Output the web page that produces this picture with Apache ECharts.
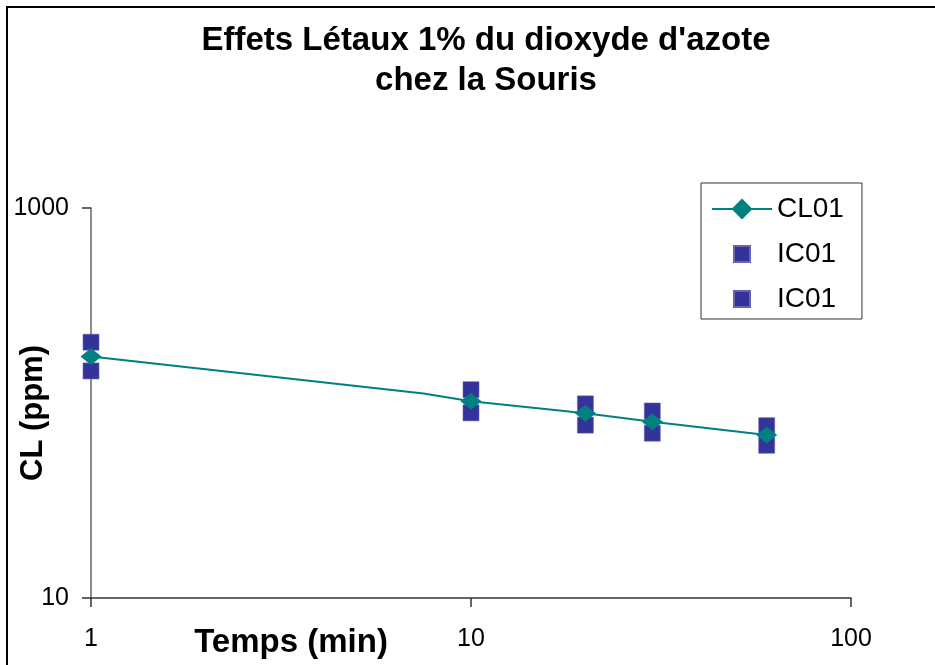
<!DOCTYPE html>
<html>
<head>
<meta charset="utf-8">
<script src="https://cdn.jsdelivr.net/npm/echarts@6/dist/echarts.min.js"></script>
<style>
  html, body { margin: 0; padding: 0; background: #fff; }
  #chart { width: 935px; height: 665px; }
</style>
</head>
<body>
<div id="chart"></div>
<script>
// ---- data ----
const titleText = "Effets Létaux 1% du dioxyde d'azote\nchez la Souris";
const xName = "Temps (min)";
const yName = "CL (ppm)";
const clTimes = [1, 7.5, 10, 20, 30, 60];          // CL01 curve points
const clValues = [173, 112, 102, 88.5, 80.2, 68.5];
const markerTimes = [1, 10, 20, 30, 60];          // points drawn with a marker
const icTimes = [1, 10, 20, 30, 60];
const icUpper = [205, 117, 99, 91, 76.5];
const icLower = [146, 89, 77, 70, 60.7];
const xTicks = [1, 10, 100];
const yTicks = [10, 1000];

const FONT = "'Liberation Sans', Arial, sans-serif";
const squareIcon = 'path://M0,0L0,0M26,26L26,26M5,5L21,5L21,21L5,21Z';

const chart = echarts.init(document.getElementById('chart'), null, { renderer: 'canvas' });

const clData = clTimes.map((t, i) => {
  const item = { value: [t, clValues[i]] };
  if (markerTimes.indexOf(t) < 0) item.symbol = 'none';
  return item;
});

chart.setOption({
  backgroundColor: '#ffffff',
  animation: false,
  title: {
    text: titleText,
    left: 481,
    textAlign: 'center',
    top: 16,
    textStyle: { fontFamily: FONT, fontSize: 33, fontWeight: 'bold', color: '#000', lineHeight: 40 }
  },
  graphic: [{
    type: 'rect',
    shape: { x: 7, y: 7, width: 2000, height: 2000 },
    style: { fill: 'none', stroke: '#000', lineWidth: 2 },
    silent: true
  }],
  legend: {
    orient: 'vertical',
    left: 701,
    top: 183,
    itemWidth: 60,
    itemHeight: 26,
    itemGap: 17,
    padding: [12, 18, 6, 10],
    borderColor: '#333',
    borderWidth: 1,
    textStyle: { fontFamily: FONT, fontSize: 28, color: '#000' },
    data: [
      { name: 'CL01' },
      { name: 'IC01', icon: squareIcon },
      { name: 'IC01 ', icon: squareIcon }
    ]
  },
  grid: { left: 91, right: 84, top: 208, bottom: 67, containLabel: false, outerBoundsMode: 'none' },
  xAxis: {
    type: 'log',
    logBase: 10,
    min: xTicks[0],
    max: xTicks[xTicks.length - 1],
    name: xName,
    nameLocation: 'middle',
    nameGap: 28,
    nameMoveOverlap: false,
    nameTextStyle: { fontFamily: FONT, fontSize: 33, fontWeight: 'bold', color: '#000', padding: [0, 360, 0, 0] },
    axisLine: { lineStyle: { color: '#333', width: 1.5 } },
    axisTick: { show: true, length: 9, inside: false, lineStyle: { color: '#333', width: 1.5 } },
    axisLabel: { fontFamily: FONT, fontSize: 25, color: '#000', margin: 29, customValues: xTicks,
                 formatter: v => String(v) },
    splitLine: { show: false },
    minorTick: { show: false }
  },
  yAxis: {
    type: 'log',
    logBase: 10,
    min: yTicks[0],
    max: yTicks[yTicks.length - 1],
    name: yName,
    nameLocation: 'middle',
    nameGap: 42,
    nameRotate: 90,
    nameMoveOverlap: false,
    nameTextStyle: { fontFamily: FONT, fontSize: 31, fontWeight: 'bold', color: '#000', padding: [0, 20, 0, 0] },
    axisLine: { lineStyle: { color: '#666', width: 1.5 } },
    axisTick: { show: true, length: 9, inside: false, lineStyle: { color: '#333', width: 1.5 }, customValues: yTicks },
    axisLabel: { fontFamily: FONT, fontSize: 25, color: '#000', margin: 22, customValues: yTicks,
                 formatter: v => String(v) },
    splitLine: { show: false },
    minorTick: { show: false }
  },
  series: [
    {
      name: 'CL01',
      type: 'line',
      data: clData,
      symbol: 'diamond',
      symbolSize: [21, 17],
      showAllSymbol: true,
      lineStyle: { color: '#008080', width: 2 },
      itemStyle: { color: '#008080' },
      z: 4
    },
    {
      name: 'IC01',
      type: 'scatter',
      data: icTimes.map((t, i) => [t, icUpper[i]]),
      symbol: 'rect',
      symbolSize: 16,
      itemStyle: { color: '#333399', opacity: 1, borderColor: '#6666b0', borderWidth: 0.6 },
      z: 2
    },
    {
      name: 'IC01 ',
      type: 'scatter',
      data: icTimes.map((t, i) => [t, icLower[i]]),
      symbol: 'rect',
      symbolSize: 16,
      itemStyle: { color: '#333399', opacity: 1, borderColor: '#6666b0', borderWidth: 0.6 },
      z: 2
    }
  ]
});
</script>
</body>
</html>
